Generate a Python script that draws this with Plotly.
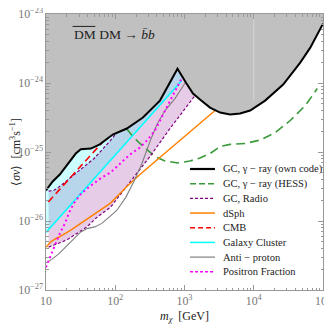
import plotly.graph_objects as go

# --- data (m in GeV, <sigma v> in cm^3/s) ---
gc_own_m = [10, 12.5, 15.8, 20.6, 26.9, 31.8, 44.4, 59.8, 92.2, 147, 251, 442, 792,
            1052, 1327, 1675, 2337, 3266, 4550, 6350, 8870, 14600, 26600, 46900, 65500, 100000]
gc_own_sv = [2.77e-26, 3.74e-26, 4.72e-26, 6.83e-26, 9.5e-26, 1.10e-25, 1.12e-25, 1.29e-25,
             1.79e-25, 2.19e-25, 3.16e-25, 5.56e-25, 1.61e-24, 1.01e-24, 7.03e-25, 5.75e-25,
             4.41e-25, 3.73e-25, 3.49e-25, 3.61e-25, 3.99e-25, 5.56e-25, 9.48e-25, 1.97e-24,
             3.25e-24, 7.24e-24]

hess_m = [146, 180, 227, 286, 374, 522, 805, 1200, 1675, 2337, 3266, 4550, 7500,
          12400, 20400, 33700, 55500, 82800]
hess_sv = [2.17e-25, 1.67e-25, 1.33e-25, 1.09e-25, 8.61e-26, 7.41e-26, 6.93e-26, 7.41e-26,
           8.19e-26, 9.5e-26, 1.20e-25, 1.29e-25, 1.33e-25, 1.49e-25, 1.91e-25, 2.86e-25,
           4.71e-25, 8.3e-25]

radio_hi_m = [10.9, 12.9, 15.3, 18.0, 22.5, 28.1, 49.0, 85.5, 117, 227, 728, 1419]
radio_hi_sv = [2.71e-26, 2.77e-26, 3.10e-26, 3.54e-26, 4.32e-26, 5.11e-26, 7.98e-26,
               1.47e-25, 2.19e-25, 4.27e-25, 1.97e-24, 2.94e-24]
radio_lo_m = [10.9, 12.9, 16.9, 21.3, 27.8, 38.8, 54.2, 85.5, 125, 317, 617, 1419]
radio_lo_sv = [4.19e-27, 4.43e-27, 4.95e-27, 5.54e-27, 6.55e-27, 8.17e-27, 1.13e-26,
               1.59e-26, 2.59e-26, 8.61e-26, 2.19e-25, 6.58e-25]

dsph_m = [10, 11.6, 13.7, 16.1, 22.5, 31.5, 44.0, 61.3, 85.5, 117, 147, 227, 350, 617,
          1016, 1675, 2761]
dsph_sv = [4.15e-27, 4.95e-27, 5.54e-27, 5.98e-27, 7.31e-27, 9.14e-27, 1.14e-26, 1.42e-26,
           1.82e-26, 2.51e-26, 3.17e-26, 4.72e-26, 6.83e-26, 1.09e-25, 1.67e-25, 2.58e-25,
           3.99e-25]

cmb_m = [10.8, 66]
cmb_sv = [1.89e-26, 1.40e-25]

cluster_m = [10, 100, 910]
cluster_sv = [6.84e-27, 9.08e-26, 1.08e-24]

pbar_m = [10, 12.1, 15.3, 19.3, 25.2, 31.8, 40.1, 50.7, 63.9, 80.7, 105, 142, 186, 243,
          317, 400, 522, 728, 1052]
pbar_sv = [2.48e-27, 2.78e-27, 3.34e-27, 4.15e-27, 5.51e-27, 6.95e-27, 7.82e-27, 8.22e-27,
           9.23e-27, 1.13e-26, 1.42e-26, 2.20e-26, 3.74e-26, 6.83e-26, 1.42e-25, 2.50e-25,
           3.99e-25, 5.94e-25, 1.05e-24]

positron_m = [10, 11.6, 12.9, 14.4, 16.1, 19.1, 21.3, 25.2, 31.5, 39.2, 49.0, 61.3, 85.5,
              117, 163, 227, 296, 374, 472, 617, 889]
positron_sv = [2.13e-27, 3.18e-27, 4.01e-27, 5.24e-27, 6.84e-27, 9.55e-27, 1.29e-26,
               1.80e-26, 2.43e-26, 2.96e-26, 3.50e-26, 4.14e-26, 5.05e-26, 6.83e-26,
               9.2e-26, 1.16e-25, 1.52e-25, 2.05e-25, 3.27e-25, 5.56e-25, 1.12e-24]

# faint seam visible in the grey region of the original figure
seam_m = [1e4, 1e4]
seam_sv = [1e-23, 5.5e-25]

x_range = [10, 1e5]
y_range = [1e-27, 1e-23]

SERIF = "Liberation Serif"
INK = "#222222"
FRAME = "#999999"

# legend entries, in the reference's order
LEGEND = [
    ("GC, γ − ray (own code)", dict(color="black", width=2.2)),
    ("GC, γ − ray (HESS)", dict(color="#3a9a3a", width=1.6, dash="6px,3px")),
    ("GC, Radio", dict(color="#800080", width=1.3, dash="3px,2px")),
    ("dSph", dict(color="#ff8000", width=1.5)),
    ("CMB", dict(color="#ff0000", width=1.6, dash="5px,3px")),
    ("Galaxy Cluster", dict(color="#00ffff", width=1.5)),
    ("Anti − proton", dict(color="#808080", width=1.2)),
    ("Positron Fraction", dict(color="#ff00ff", width=1.6, dash="3px,2px")),
]

fig = go.Figure()

# GC radio band (purple), drawn first so the cluster fill blends over it
fig.add_trace(go.Scatter(
    x=radio_hi_m + radio_lo_m[::-1], y=radio_hi_sv + radio_lo_sv[::-1],
    fill="toself", fillcolor="rgba(128,0,128,0.2)", line=dict(width=0), mode="lines",
    hoverinfo="skip",
))
# galaxy cluster excluded region (above the cyan line)
fig.add_trace(go.Scatter(
    x=cluster_m + [cluster_m[-1], x_range[0]], y=cluster_sv + [y_range[1], y_range[1]],
    fill="toself", fillcolor="rgba(0,255,255,0.2)", line=dict(width=0), mode="lines",
    hoverinfo="skip",
))


def line(x, y, color, width, dash="solid"):
    fig.add_trace(go.Scatter(x=x, y=y, mode="lines",
                             line=dict(color=color, width=width, dash=dash)))


line(hess_m, hess_sv, "#3a9a3a", 1.6, "9px,5px")
line(radio_hi_m, radio_hi_sv, "#800080", 1.2, "3px,2px")
line(radio_lo_m, radio_lo_sv, "#800080", 1.2, "3px,2px")
line(dsph_m, dsph_sv, "#ff8000", 1.5)
line(cmb_m, cmb_sv, "#ff0000", 1.6, "7px,4px")
line(cluster_m, cluster_sv, "#00ffff", 1.5)
line(pbar_m, pbar_sv, "#808080", 1.1)
line(positron_m, positron_sv, "#ff00ff", 2, "2px,3px")

# excluded region above the own-code gamma-ray limit
fig.add_trace(go.Scatter(
    x=gc_own_m + [x_range[1], x_range[0]], y=gc_own_sv + [y_range[1], y_range[1]],
    fill="toself", fillcolor="#c0c0c0", line=dict(width=0), mode="lines",
    hoverinfo="skip",
))
line(seam_m, seam_sv, "#d4d4d4", 1)
line(gc_own_m, gc_own_sv, "black", 2)

axis_common = dict(
    type="log", dtick=1, exponentformat="power", showgrid=False, zeroline=False,
    showline=True, linecolor=FRAME, linewidth=1, mirror="allticks", automargin=False,
    ticks="inside", ticklen=5, tickcolor=FRAME, ticklabeloverflow="allow",
    minor=dict(ticks="inside", ticklen=2.5, tickcolor=FRAME, showgrid=False),
    tickfont=dict(family=SERIF, size=9.5, color="#777777"),
)
fig.update_xaxes(range=[1, 5], title=dict(text="<i>m</i><sub><i>χ</i></sub>  [GeV]",
                                          font=dict(family=SERIF, size=12, color=INK),
                                          standoff=4), **axis_common)
fig.update_yaxes(range=[-27, -23], title=dict(text="⟨<i>σv</i>⟩  [cm<sup>3</sup>s<sup>−1</sup>]",
                                              font=dict(family=SERIF, size=12, color=INK),
                                              standoff=4), **axis_common)

# panel label, with the bar over the first "DM"
fig.add_annotation(
    x=0.093, y=0.927, xref="paper", yref="paper", xanchor="left", yanchor="middle",
    text="DM DM → <i>b\u0304b</i>", showarrow=False,
    font=dict(family=SERIF, size=13.5, color=INK),
)
fig.add_shape(type="line", xref="paper", yref="paper", x0=0.096, x1=0.178, y0=0.955, y1=0.955,
              line=dict(color=INK, width=1))

# hand-drawn legend (Plotly's own legend rows are too tall for this spacing)
row_y0, row_step = 0.4384, 0.0532
for i, (name, style) in enumerate(LEGEND):
    yy = row_y0 - i * row_step
    fig.add_shape(type="line", xref="paper", yref="paper", x0=0.520, x1=0.610, y0=yy, y1=yy,
                  line=style)
    fig.add_annotation(x=0.630, y=yy, xref="paper", yref="paper", xanchor="left",
                       yanchor="middle", text=name, showarrow=False,
                       font=dict(family=SERIF, size=10.5, color=INK))

# the page body adds an 8px offset, so the margins are shifted to compensate
fig.update_layout(
    width=332, height=332,
    margin=dict(l=38, r=17, t=6, b=50),
    paper_bgcolor="white", plot_bgcolor="white",
    font=dict(family=SERIF, size=10, color=INK),
    showlegend=False,
)

fig.write_html("out.html")
